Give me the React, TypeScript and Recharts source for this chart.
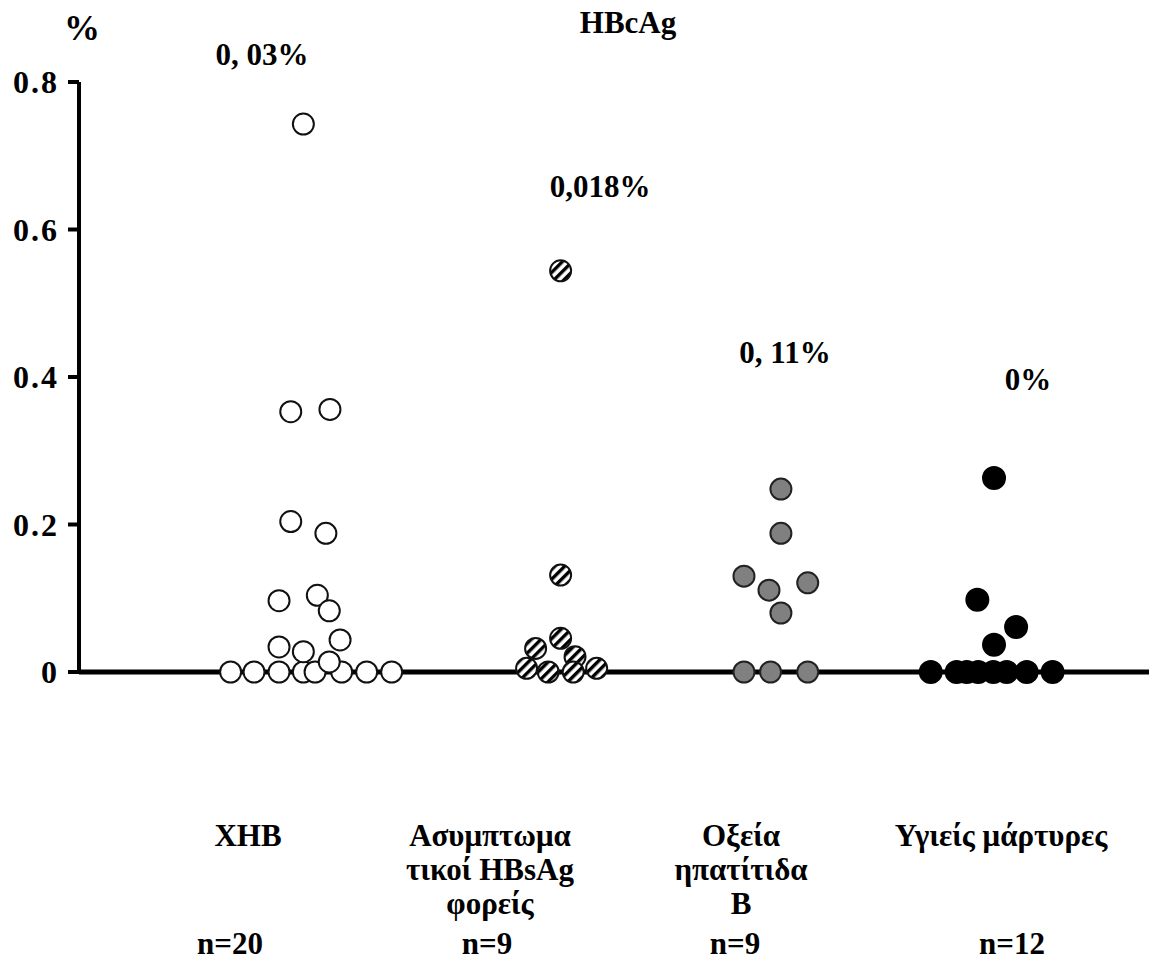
import { ReferenceLine, Scatter, ScatterChart, XAxis, YAxis } from "recharts";

// x = position along the axis in group units (group k sits near k), y = % of cells
const chbX = [0.673, 0.777, 0.888, 0.996, 1.048, 1.166, 1.277, 1.388, 0.888, 0.996, 1.159, 1.111, 0.888, 1.058, 1.111, 0.94, 1.096, 0.94, 1.114, 0.996];
const chbY = [0, 0, 0, 0, 0, 0, 0, 0, 0.034, 0.0275, 0.0434, 0.0136, 0.0967, 0.104, 0.083, 0.204, 0.188, 0.353, 0.356, 0.743];

const carrierX = [2.138, 2.138, 2.027, 2.138, 2.202, 1.987, 2.083, 2.194, 2.298];
const carrierY = [0.544, 0.1315, 0.032, 0.0457, 0.0207, 0.005, 0, 0, 0.005];

const acuteX = [3.116, 3.116, 2.952, 3.063, 3.235, 3.116, 2.952, 3.07, 3.235];
const acuteY = [0.248, 0.188, 0.13, 0.111, 0.121, 0.08, 0, 0, 0];

const healthyX = [4.062, 3.988, 4.16, 4.062, 3.781, 3.896, 3.941, 3.992, 4.059, 4.118, 4.207, 4.322];
const healthyY = [0.263, 0.098, 0.061, 0.037, 0, 0, 0, 0, 0, 0, 0, 0];

const yTicks = [0, 0.2, 0.4, 0.6, 0.8];

const pctLabels = ["0, 03%", "0,018%", "0, 11%", "0%"];
const groupLabels = [["ΧΗΒ"], ["Ασυμπτωμα", "τικοί HBsAg", "φορείς"], ["Οξεία", "ηπατίτιδα", "Β"], ["Υγιείς μάρτυρες"]];
const nLabels = ["n=20", "n=9", "n=9", "n=12"];

const toPoints = (xs: number[], ys: number[]) => xs.map((x, i) => ({ x, y: ys[i] }));

const FONT = "'Liberation Serif', 'Times New Roman', serif";

const dot = (fill: string, stroke: string, r: number) => (p: any) =>
  <circle cx={p.cx} cy={p.cy} r={r} fill={fill} stroke={stroke} strokeWidth={2} />;

// annotation placement (page px)
const pctPos = [
  { x: 262, y: 65 },
  { x: 600, y: 197 },
  { x: 785, y: 363 },
  { x: 1028, y: 390 },
];
const groupCx = [248, 490, 741, 1001];
const nCx = [230, 487, 735, 1012];

export default function App() {
  const txt = { fontFamily: FONT, fontWeight: "bold" as const, fontSize: 31, fill: "#000" };
  return (
    <div style={{ position: "absolute", left: 0, top: 0, width: 1149, height: 962, background: "#fff" }}>
      <svg width={0} height={0} style={{ position: "absolute" }}>
        <defs>
          <pattern id="hatch" width="7" height="7" patternUnits="userSpaceOnUse" patternTransform="rotate(45)">
            <rect width="7" height="7" fill="#fff" />
            <rect width="3.4" height="7" fill="#000" />
          </pattern>
        </defs>
      </svg>
      <ScatterChart width={1149} height={962} margin={{ top: 82, right: 0, bottom: 290, left: 0 }}>
        <XAxis type="number" dataKey="x" domain={[0, 4.75]} hide />
        <YAxis
          type="number"
          dataKey="y"
          domain={[0, 0.8]}
          ticks={yTicks}
          width={79}
          axisLine={{ stroke: "#000", strokeWidth: 4 }}
          tickLine={{ stroke: "#000", strokeWidth: 4 }}
          tickSize={11}
          tickMargin={9}
          tick={{ ...txt, fontSize: 32, letterSpacing: 2 }}
        />
        <ReferenceLine y={0} stroke="#000" strokeWidth={5} />
        <Scatter data={toPoints(chbX, chbY)} shape={dot("#fff", "#111", 10.5)} isAnimationActive={false} />
        <Scatter data={toPoints(carrierX, carrierY)} shape={dot("url(#hatch)", "#111", 10.5)} isAnimationActive={false} />
        <Scatter data={toPoints(acuteX, acuteY)} shape={dot("#808080", "#222", 10.5)} isAnimationActive={false} />
        <Scatter data={toPoints(healthyX, healthyY)} shape={dot("#000", "#000", 11)} isAnimationActive={false} />
      </ScatterChart>
      <svg width={1149} height={962} style={{ position: "absolute", left: 0, top: 0, pointerEvents: "none" }}>
        <text x={82} y={40} textAnchor="middle" {...txt} fontSize={36}>%</text>
        <text x={628} y={33} textAnchor="middle" {...txt}>HBcAg</text>
        {pctLabels.map((t, i) => (
          <text key={t + i} x={pctPos[i].x} y={pctPos[i].y} textAnchor="middle" {...txt}>{t}</text>
        ))}
        {groupLabels.map((lines, i) =>
          lines.map((l, j) => (
            <text key={l} x={groupCx[i]} y={846 + j * 34} textAnchor="middle" {...txt}>{l}</text>
          ))
        )}
        {nLabels.map((t, i) => (
          <text key={t + i} x={nCx[i]} y={954} textAnchor="middle" {...txt}>{t}</text>
        ))}
      </svg>
    </div>
  );
}
